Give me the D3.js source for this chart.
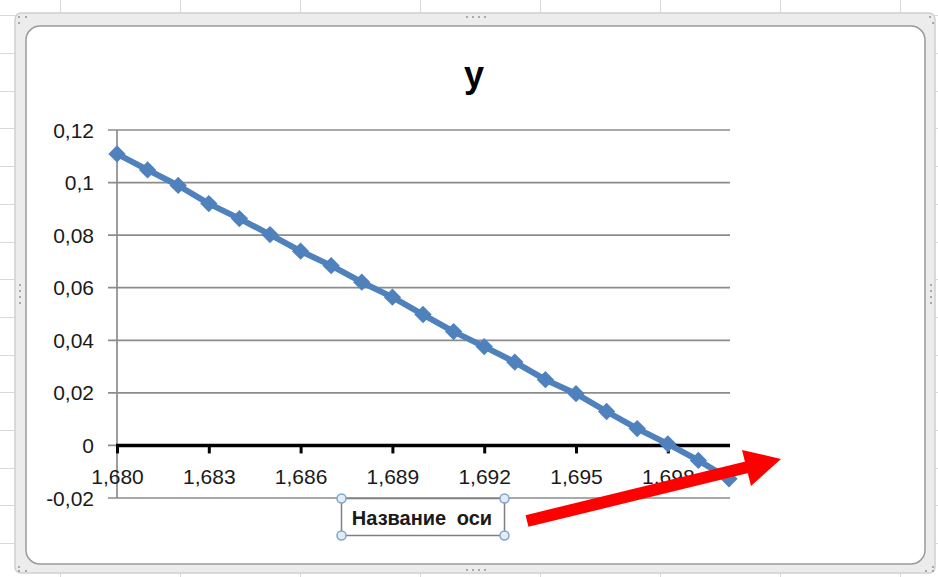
<!DOCTYPE html>
<html>
<head>
<meta charset="utf-8">
<script src="https://cdn.jsdelivr.net/npm/d3@7"></script>
<style>
    body { margin: 0; background: #fff; }
    svg { display: block; }
</style>
</head>
<body>
<div id="dis"></div>
<script>
var title = "y";
var axisTitle = "Название оси";

var cats = ["1,680", "1,681", "1,682", "1,683", "1,684", "1,685", "1,686",
            "1,687", "1,688", "1,689", "1,690", "1,691", "1,692", "1,693",
            "1,694", "1,695", "1,696", "1,697", "1,698", "1,699", "1,700"];

var yVals = [0.1109, 0.1048, 0.0989, 0.0920, 0.0863, 0.0802, 0.0739,
             0.0684, 0.0621, 0.0564, 0.0498, 0.0433, 0.0376, 0.0317,
             0.0250, 0.0197, 0.0129, 0.0064, 0.0006, -0.0057, -0.0127];

var yDomain = [-0.02, 0.12];
var xLabels = ["1,680", "1,683", "1,686", "1,689", "1,692", "1,695", "1,698"];

var draw = function() {
    var width = 938;
    var height = 577;
    var blue = "#4f81bd";
    var grid = "#8c8c8c";
    var font = "'Liberation Sans', Arial, sans-serif";

    var svg = d3.select("#dis").append("svg")
        .attr("width", width)
        .attr("height", height);

    // spreadsheet cells behind the chart
    var sheet = svg.append("g")
        .attr("stroke", "#d9d9d9")
        .attr("stroke-width", 1);
    sheet.selectAll("line.v")
        .data(d3.range(60, width, 120))
        .join("line")
        .attr("class", "v")
        .attr("x1", d => d + 0.5).attr("x2", d => d + 0.5)
        .attr("y1", 0).attr("y2", height);
    sheet.selectAll("line.h")
        .data(d3.range(15.3, height, 37.7))
        .join("line")
        .attr("class", "h")
        .attr("x1", 0).attr("x2", width)
        .attr("y1", d => Math.round(d) + 0.5).attr("y2", d => Math.round(d) + 0.5);

    // selected chart frame
    svg.append("rect")
        .attr("x", 15).attr("y", 13)
        .attr("width", 920).attr("height", 560)
        .attr("rx", 6)
        .attr("fill", "#ececec")
        .attr("stroke", "#cfcfcf")
        .attr("stroke-width", 1.5);
    svg.append("rect")
        .attr("x", 26).attr("y", 26)
        .attr("width", 899).attr("height", 538)
        .attr("rx", 14)
        .attr("fill", "#fff")
        .attr("stroke", "#9a9a9a")
        .attr("stroke-width", 1.5);

    // little grip dots on the frame
    var dots = [];
    [0, 1, 2, 3].forEach(i => {
        dots.push([466 + i * 6, 16], [466 + i * 6, 569]);
        dots.push([19, 284 + i * 6], [930, 284 + i * 6]);
    });
    dots.push([18, 16], [25, 16], [18, 22], [929, 16], [932, 22],
              [18, 566], [18, 570], [25, 570], [925, 570], [932, 570], [932, 566]);
    svg.append("g")
        .attr("fill", "#a8a8a8")
        .selectAll("rect")
        .data(dots)
        .join("rect")
        .attr("x", d => d[0]).attr("y", d => d[1])
        .attr("width", 2).attr("height", 2);

    var x = d3.scalePoint().domain(cats).range([117, 729]);
    var y = d3.scaleLinear().domain(yDomain).range([498, 130]);

    var loc = d3.formatLocale({decimal: ",", thousands: " ", grouping: [3],
                               currency: ["", ""], minus: "-"});
    var fmt = loc.format("~f");

    // horizontal gridlines
    var yTicks = y.ticks(7);
    svg.append("g")
        .attr("stroke", grid)
        .attr("stroke-width", 1.7)
        .selectAll("line")
        .data(yTicks)
        .join("line")
        .attr("x1", 108).attr("x2", 730)
        .attr("y1", d => y(d)).attr("y2", d => y(d));
    svg.append("line")
        .attr("x1", 117).attr("x2", 117)
        .attr("y1", y(yDomain[1])).attr("y2", y(yDomain[0]))
        .attr("stroke", grid)
        .attr("stroke-width", 1.7);

    svg.append("g")
        .attr("font-family", font)
        .attr("font-size", 21)
        .attr("fill", "#1a1a1a")
        .attr("text-anchor", "end")
        .selectAll("text")
        .data(yTicks)
        .join("text")
        .attr("x", 94)
        .attr("y", d => y(d))
        .attr("dy", "0.36em")
        .text(d => fmt(d));

    // category axis sitting on zero
    var xAxis = svg.append("g")
        .attr("transform", "translate(0," + y(0) + ")")
        .call(d3.axisBottom(x).tickValues(xLabels).tickSize(8).tickSizeOuter(0).tickPadding(16));
    xAxis.select(".domain")
        .attr("d", "M116,0H730")
        .attr("stroke", "#000")
        .attr("stroke-width", 3.5);
    xAxis.selectAll(".tick line")
        .attr("stroke", "#000")
        .attr("stroke-width", 3);
    xAxis.selectAll(".tick text")
        .attr("font-family", font)
        .attr("font-size", 21)
        .attr("fill", "#1a1a1a");

    // title
    svg.append("text")
        .attr("x", 474).attr("y", 87)
        .attr("text-anchor", "middle")
        .attr("font-family", font)
        .attr("font-weight", "bold")
        .attr("font-size", 36)
        .text(title);

    // series
    var pts = cats.map((c, i) => ({c: c, v: yVals[i]}));
    svg.append("path")
        .datum(pts)
        .attr("fill", "none")
        .attr("stroke", blue)
        .attr("stroke-width", 6)
        .attr("stroke-linejoin", "round")
        .attr("d", d3.line().x(d => x(d.c)).y(d => y(d.v)));
    svg.append("g")
        .attr("fill", blue)
        .selectAll("path")
        .data(pts)
        .join("path")
        .attr("transform", d => "translate(" + x(d.c) + "," + y(d.v) + ") rotate(45)")
        .attr("d", d3.symbol(d3.symbolSquare, 150));

    // axis title box, selected
    var box = svg.append("g");
    box.append("rect")
        .attr("x", 341.5).attr("y", 498.5)
        .attr("width", 163).attr("height", 37)
        .attr("fill", "#fff")
        .attr("stroke", "#7f7f7f")
        .attr("stroke-width", 1.5);
    box.append("text")
        .attr("x", 422).attr("y", 525)
        .attr("text-anchor", "middle")
        .attr("font-family", font)
        .attr("font-weight", "bold")
        .attr("font-size", 20)
        .attr("word-spacing", 5)
        .attr("fill", "#1a1a1a")
        .text(axisTitle);
    box.selectAll("circle")
        .data([[341.5, 498.5], [504.5, 498.5], [341.5, 535.5], [504.5, 535.5]])
        .join("circle")
        .attr("cx", d => d[0]).attr("cy", d => d[1])
        .attr("r", 4.5)
        .attr("fill", "#e3ecf5")
        .attr("stroke", "#7ea6cb")
        .attr("stroke-width", 1.5);

    // red arrow
    svg.append("line")
        .attr("x1", 527).attr("y1", 521)
        .attr("x2", 752).attr("y2", 466)
        .attr("stroke", "#f00")
        .attr("stroke-width", 12);
    svg.append("path")
        .attr("d", "M742,450L781,459L751,486Z")
        .attr("fill", "#f00");
};

window.onload = function() {
    draw();
};
</script>
</body>
</html>
